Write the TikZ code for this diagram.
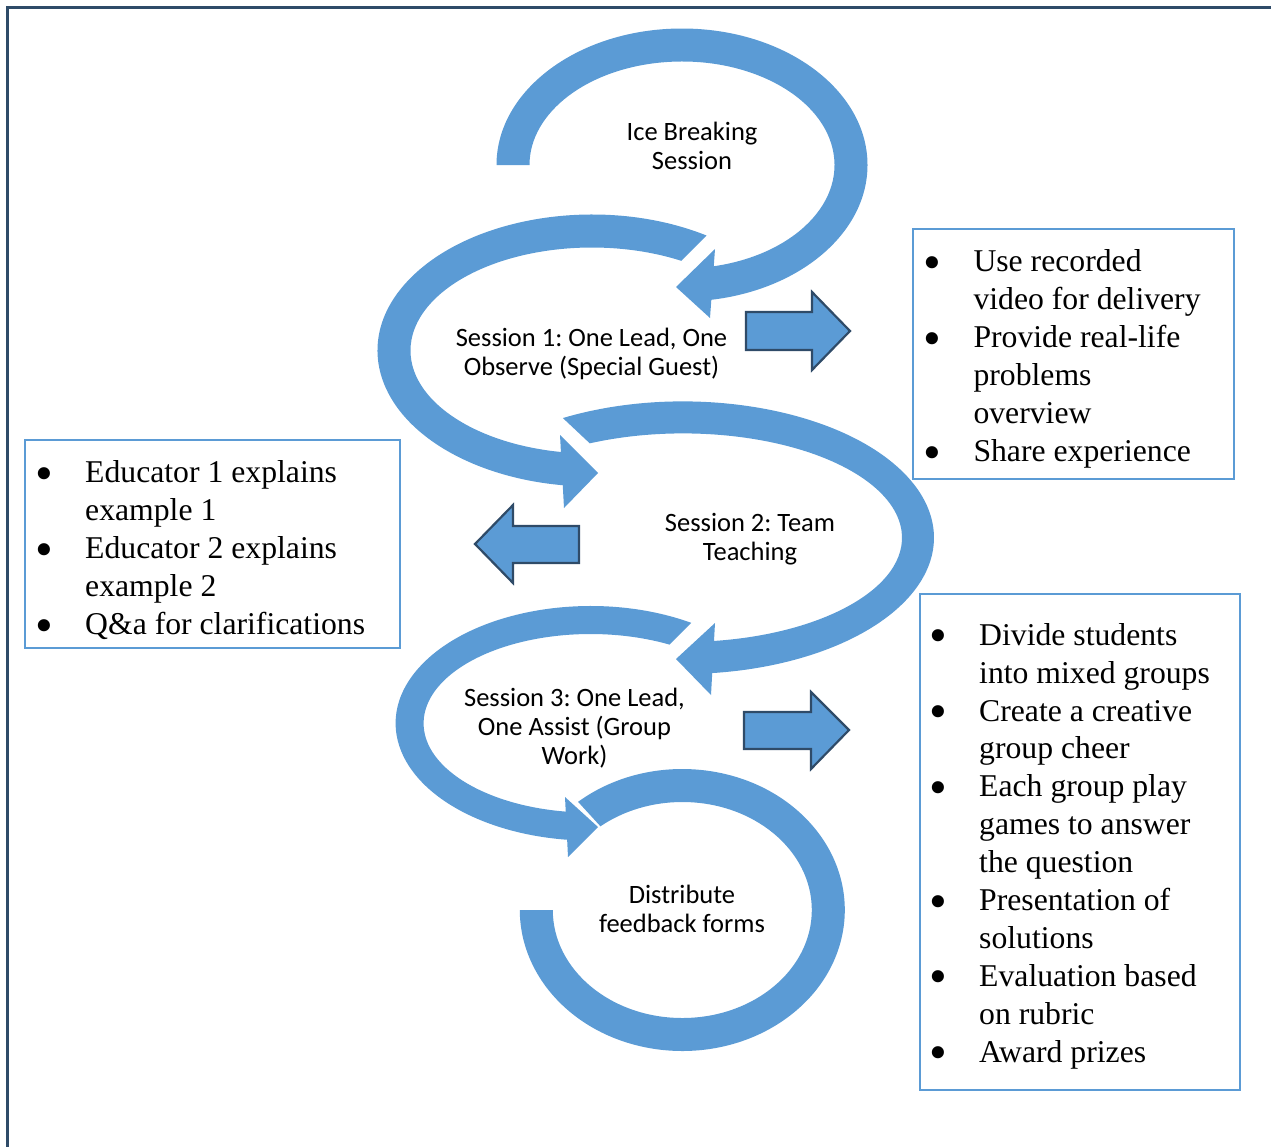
\documentclass[tikz,border=0pt]{standalone}
\usepackage{fontspec}
\usepackage{graphicx}
\setmainfont{Liberation Serif}
\newfontfamily\lblfont{Carlito}
\definecolor{accent}{HTML}{5B9BD5}
\definecolor{darkline}{HTML}{2F4B68}
\newcommand\bulcol{\makebox[47pt][l]{\hspace{-3.2pt}\raisebox{-7.6pt}{\scalebox{1.6}{\textbullet}}}}
\frenchspacing
\begin{document}
\begin{tikzpicture}[x=1pt,y=-1pt,
  band/.style={fill=accent},
  blockarrow/.style={fill=accent,draw=darkline,line width=2.2pt,line join=miter},
  textbox/.style={draw=accent,line width=2pt},
  lbl/.style={inner sep=0pt,anchor=north,font=\lblfont\fontsize{26.5}{29}\selectfont},
  lst/.style={inner sep=0pt,anchor=north west,font=\fontsize{31.7}{37.9}\selectfont},
  frame/.style={draw=darkline,line width=2.5pt}]
\useasboundingbox (0,0) rectangle (1271,1146);
\draw[frame] (1272,7.5) -- (7.5,7.5) -- (7.5,1147);

% centres of the circular arrows
\coordinate (cT) at (682,165);
\coordinate (c1) at (592,350.5);
\coordinate (c2) at (683,537.7);
\coordinate (c3) at (590.6,723.3);
\coordinate (cB) at (682.3,910);

% Ice breaking arrow
\fill[band,shift={(cT)}] (180:185.5 and 136.5) arc[start angle=180,end angle=444,x radius=185.5,y radius=136.5]
  -- (444:152.5 and 103.5) arc[start angle=444,end angle=180,x radius=152.5,y radius=103.5] -- cycle;
\fill[band] (715,249) -- (710,318) -- (676,287) -- cycle;

% Session 1 arrow
\fill[band,shift={(c1)}] (302.3:214.5 and 136) arc[start angle=302.3,end angle=96,x radius=214.5,y radius=136]
  -- (96:181.5 and 103) arc[start angle=96,end angle=299.5,x radius=181.5,y radius=103] -- cycle;
\fill[band] (560,435) -- (564,508) -- (598,473) -- cycle;

% Session 2 arrow
\fill[band,shift={(c2)}] (241.4:251 and 136.3) arc[start angle=241.4,end angle=446,x radius=251,y radius=136.3]
  -- (446:219 and 104.3) arc[start angle=446,end angle=244.8,x radius=219,y radius=104.3] -- cycle;
\fill[band] (715,623) -- (711,695) -- (676,659) -- cycle;

% Session 3 arrow
\fill[band,shift={(c3)}] (301.1:195 and 117.3) arc[start angle=301.1,end angle=94,x radius=195,y radius=117.3]
  -- (94:167 and 89.3) arc[start angle=94,end angle=298.2,x radius=167,y radius=89.3] -- cycle;
\fill[band] (565,797) -- (568,857) -- (598,827) -- cycle;

% Feedback arrow
\fill[band,shift={(cB)}] (230.1:162.5 and 141) arc[start angle=230.1,end angle=540,x radius=162.5,y radius=141]
  -- (540:129.5 and 108) arc[start angle=540,end angle=230.8,x radius=129.5,y radius=108] -- cycle;

% labels
\node[lbl] (ice) at (692,120.4) {\begin{tabular}{@{}c@{}}Ice Breaking\\Session\end{tabular}};
\node[lbl] (s1) at (591.5,325.7) {\begin{tabular}{@{}c@{}}Session 1: One Lead, One\\Observe (Special Guest)\end{tabular}};
\node[lbl] (s2) at (750,511.4) {\begin{tabular}{@{}c@{}}Session 2: Team\\Teaching\end{tabular}};
\node[lbl] (s3) at (574.5,685.7) {\begin{tabular}{@{}c@{}}Session 3: One Lead,\\One Assist (Group\\Work)\end{tabular}};
\node[lbl] (fb) at (682,883) {\begin{tabular}{@{}c@{}}Distribute\\feedback forms\end{tabular}};

% block arrows
\draw[blockarrow] (746,312) -- (812,312) -- (812,292) -- (850,331) -- (812,370) -- (812,350) -- (746,350) -- cycle;
\draw[blockarrow] (579,526) -- (513,526) -- (513,505) -- (475,544) -- (513,583) -- (513,563) -- (579,563) -- cycle;
\draw[blockarrow] (744,712) -- (811,712) -- (811,692) -- (849,730) -- (811,769) -- (811,749) -- (744,749) -- cycle;

% text boxes
\draw[textbox] (913,229) rectangle (1234,479);
\draw[textbox] (25,440) rectangle (400,648);
\draw[textbox] (920,594) rectangle (1240,1090);

\node[lst] (la) at (926.3,245.2) {\begin{tabular}{@{}l@{}l@{}}
\bulcol & Use recorded\\
 & video for delivery\\
\bulcol & Provide real-life\\
 & problems\\
 & overview\\
\bulcol & Share experience
\end{tabular}};

\node[lst] (lb) at (38,456.2) {\begin{tabular}{@{}l@{}l@{}}
\bulcol & Educator 1 explains\\
 & example 1\\
\bulcol & Educator 2 explains\\
 & example 2\\
\bulcol & Q\&a for clarifications
\end{tabular}};

\node[lst] (lc) at (932,618.5) {\begin{tabular}{@{}l@{}l@{}}
\bulcol & Divide students\\
 & into mixed groups\\
\bulcol & Create a creative\\
 & group cheer\\
\bulcol & Each group play\\
 & games to answer\\
 & the question\\
\bulcol & Presentation of\\
 & solutions\\
\bulcol & Evaluation based\\
 & on rubric\\
\bulcol & Award prizes
\end{tabular}};
\end{tikzpicture}
\end{document}
